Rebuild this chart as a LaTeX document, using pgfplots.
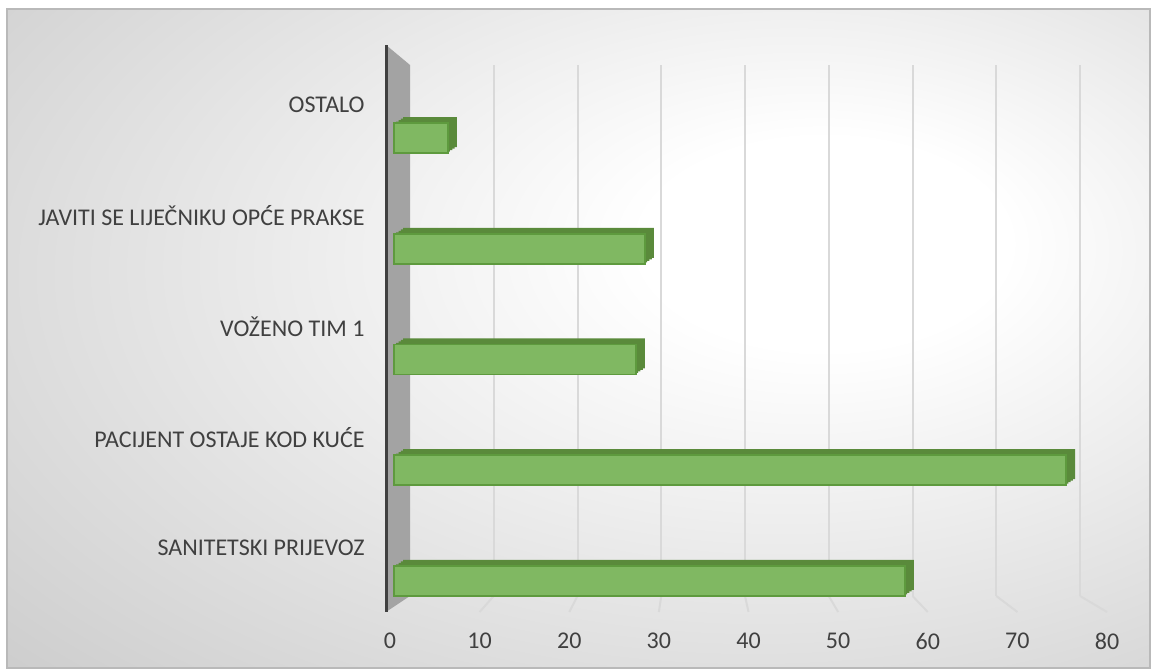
\documentclass[border=0pt]{standalone}
\usepackage{fontspec}
\setmainfont{Carlito}
\usepackage{pgfplots}
\pgfplotsset{compat=1.18}

\definecolor{txt}{HTML}{404040}
\definecolor{gridc}{HTML}{D9D9D9}
\definecolor{wallc}{HTML}{A3A3A3}
\definecolor{barfront}{HTML}{80B862}
\definecolor{baredge}{HTML}{5E9A3E}
\definecolor{bardark}{HTML}{5A8A3B}
\definecolor{bgedge}{HTML}{C2C2C2}

\pgfdeclareradialshading{chartbg}{\pgfpoint{12bp}{8bp}}{color(0bp)=(white); color(8bp)=(white); color(50bp)=(bgedge); color(80bp)=(bgedge)}

\pgfplotsset{
  bar3d/.style={xbar, bar width=15pt, bar shift=0pt},
  depth/.style={bar3d, fill=bardark, draw=none},
}

\begin{document}
\begin{tikzpicture}
\path[fill=white] (0,0) rectangle (577pt,336pt);
\shade[shading=chartbg] (3.5pt,2pt) rectangle (575pt,331.5pt);
\draw[gray!55, line width=0.6pt] (3.5pt,2pt) rectangle (575pt,331.5pt);

% back wall with the gridlines
\begin{axis}[
    name=back,
    at={(205pt,38pt)}, anchor=south west,
    scale only axis, width=335pt, height=265.5pt,
    xmin=0, xmax=80, ymin=0, ymax=1,
    xtick={10,20,...,80}, xticklabels={}, ytick=\empty,
    xmajorgrids, grid style={gridc, line width=1pt},
    axis line style={draw=none}, tick style={draw=none},
]
\end{axis}

% floor lines, back wall to front ticks
\foreach \v in {10,20,...,80}
  \draw[gridc, line width=1pt] ({205pt+\v*4.1875pt},38pt) -- ({195pt+\v*4.48125pt},30pt);

% side wall
\fill[wallc] (193pt,30pt) -- (193pt,313.5pt) -- (205pt,303.5pt) -- (205pt,38pt) -- cycle;
\draw[txt, line width=1.5pt] (193pt,30pt) -- (193pt,313.5pt);

\begin{axis}[
    name=front,
    at={(195pt,30pt)}, anchor=south west,
    scale only axis, width=358.5pt, height=283.5pt,
    xmin=0, xmax=80, ymin=-0.28, ymax=4.84,
    clip=false,
    xtick={0,10,...,80},
    ytick={0,...,4},
    yticklabels={SANITETSKI PRIJEVOZ, PACIJENT OSTAJE KOD KUĆE\hspace{3pt}, VOŽENO TIM 1, JAVITI SE LIJEČNIKU OPĆE PRAKSE, OSTALO},
    axis line style={draw=none}, tick style={draw=none}, major tick length=0pt,
    xticklabel style={anchor=center, yshift=-14.5pt},
    yticklabel style={anchor=east, inner sep=0pt, xshift=-12.5pt, yshift=16.5pt},
    tick label style={font=\fontsize{12}{14}\selectfont, text=txt},
    /pgf/number format/assume math mode=true,
]
% depth of the bars: the same bars, shifted back and up
\addplot[depth, xshift=6.5pt, yshift=3pt]
  coordinates {(57,0) (75,1) (27,2) (28,3) (6,4)};
\addplot[depth, xshift=5.4pt, yshift=2.25pt]
  coordinates {(57,0) (75,1) (27,2) (28,3) (6,4)};
\addplot[depth, xshift=4.25pt, yshift=1.5pt]
  coordinates {(57,0) (75,1) (27,2) (28,3) (6,4)};
\addplot[depth, xshift=3.1pt, yshift=0.75pt]
  coordinates {(57,0) (75,1) (27,2) (28,3) (6,4)};
\addplot[bar3d, fill=barfront, draw=baredge, line width=0.8pt, xshift=2pt]
  coordinates {(57,0) (75,1) (27,2) (28,3) (6,4)};
\end{axis}
\end{tikzpicture}
\end{document}
